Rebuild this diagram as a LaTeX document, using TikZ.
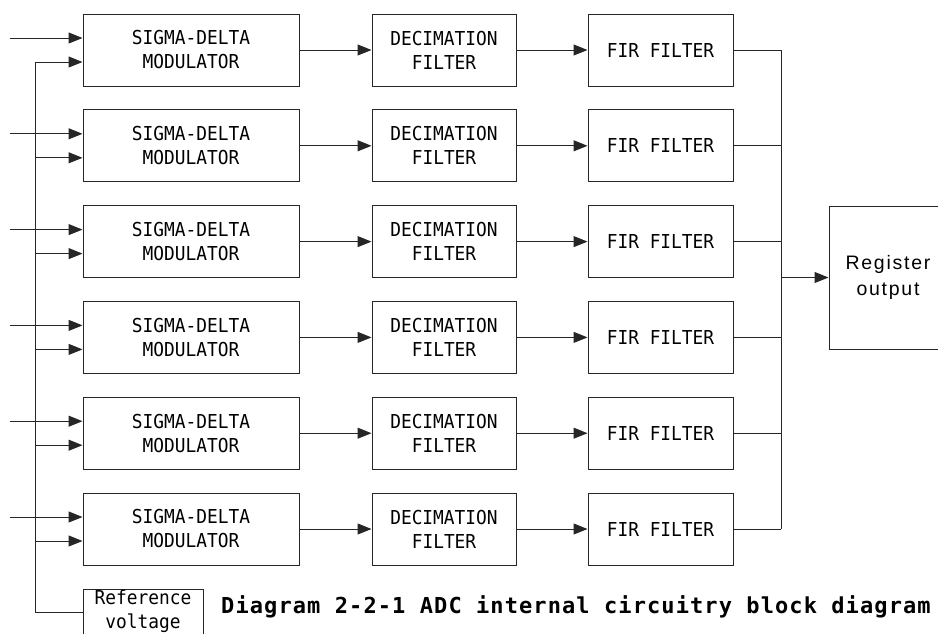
\documentclass[tikz,border=0pt]{standalone}
\usepackage{fontspec}
\usetikzlibrary{arrows.meta}
\newfontfamily\blockfont[FakeStretch=0.93]{DejaVu Sans Mono}
\newfontfamily\captionfont[LetterSpace=5]{DejaVu Sans Mono Bold}
\newfontfamily\regfont[LetterSpace=9]{Liberation Sans}
\begin{document}
\begin{tikzpicture}[x=1pt,y=-1pt,
  wire/.style={draw=black!85,line width=1pt},
  sig/.style={wire,-{Triangle[length=14pt,width=11pt]}},
  blockbox/.style={draw=black!85,line width=1pt,minimum height=72pt,inner sep=0pt,
    align=center,font=\blockfont\fontsize{19.2}{24}\selectfont},
  sdbox/.style={blockbox,minimum width=216pt},
  decbox/.style={blockbox,minimum width=144pt},
  firbox/.style={blockbox,minimum width=145pt}]
\useasboundingbox (0,0) rectangle (938,633);

% six identical channels
\foreach \i in {0,...,5}{
  \pgfmathsetmacro{\t}{14+95.8*\i}
  \node[sdbox]  (sd\i)  at (191,\t+36)   {SIGMA-DELTA\\MODULATOR};
  \node[decbox] (dec\i) at (444,\t+36)   {DECIMATION\\FILTER};
  \node[firbox] (fir\i) at (660.5,\t+36) {FIR FILTER};
  \coordinate (in\i) at (10,\t+24);
  \coordinate (ref\i) at (35,\t+48);
  \coordinate (out\i) at (781,\t+36);
  \draw[sig] (in\i) -- (sd\i.west |- in\i);
  \draw[sig] (sd\i) -- (dec\i);
  \draw[sig] (dec\i) -- (fir\i);
  \draw[wire] (fir\i) -- (out\i);
}

% reference voltage source and its distribution bus
\node[draw=black!85,line width=1pt,minimum width=120pt,minimum height=56pt,inner sep=0pt]
  (refv) at (143,617) {};
\node[font=\blockfont\fontsize{19.2}{24}\selectfont,align=center,inner sep=0pt]
  (refvtext) at (143,611) {Reference\\voltage};
\coordinate (busbot) at (35,612);
\draw[wire] (refv.west |- busbot) -- (busbot) -- (ref0);
\foreach \i in {0,...,5}{
  \draw[sig] (ref\i) -- (sd\i.west |- ref\i);
}

% output register
\node[draw=black!85,line width=1pt,minimum width=118pt,minimum height=143pt,inner sep=0pt,
  align=center,font=\regfont\fontsize{19.5}{26}\selectfont]
  (reg) at (888,277.5) {Register\\output};
\coordinate (outmid) at (781,277.5);
\draw[wire] (out0) -- (out5);
\draw[sig] (outmid) -- (reg);

% caption
\node[anchor=base west,inner sep=0pt,font=\captionfont\fontsize{22}{26}\selectfont]
  (caption) at (221,613) {Diagram 2-2-1 ADC internal circuitry block diagram};
\end{tikzpicture}
\end{document}
